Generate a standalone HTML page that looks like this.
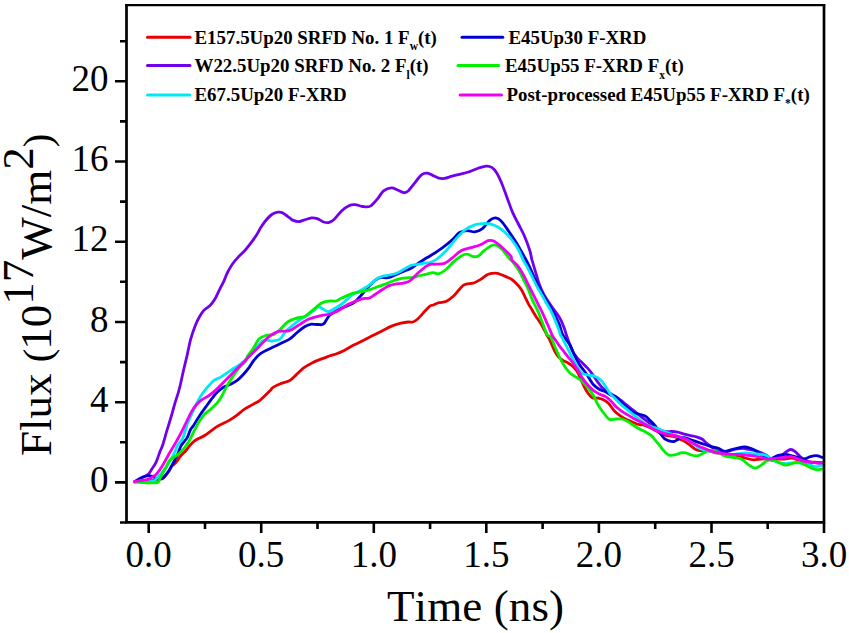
<!DOCTYPE html>
<html><head><meta charset="utf-8"><style>
html,body{margin:0;padding:0;background:#fff;}
svg{display:block;}
text{font-family:"Liberation Serif", serif;fill:#000;font-kerning:none;}
</style></head><body>
<svg width="849" height="633" viewBox="0 0 849 633">
<rect width="849" height="633" fill="#fff"/>

<defs><clipPath id="pa"><rect x="126.5" y="5.1" width="697.5" height="517.3"/></clipPath></defs>
<g clip-path="url(#pa)" fill="none" stroke-width="2.8" stroke-linejoin="round" stroke-linecap="round">
<path stroke="#e80000" d="M134.7,481.5 C136.4,481.5 141.6,481.7 145.0,481.5 C148.4,481.3 152.2,480.9 155.0,480.5 C157.8,480.1 159.8,479.5 161.5,478.8 C163.2,478.1 163.8,477.4 165.0,476.1 C166.2,474.8 167.7,472.7 168.8,471.1 C169.9,469.5 170.8,467.4 171.6,466.3 C172.4,465.2 173.0,465.4 173.8,464.6 C174.6,463.8 175.7,462.8 176.6,461.6 C177.5,460.5 178.3,459.0 179.3,457.7 C180.3,456.4 181.5,455.0 182.6,453.8 C183.7,452.6 184.9,451.8 186.0,450.5 C187.1,449.2 187.9,447.7 189.3,446.1 C190.7,444.5 192.4,442.5 194.2,441.1 C195.9,439.7 197.9,438.9 199.8,437.9 C201.7,436.9 202.6,436.9 205.5,435.0 C208.4,433.1 213.5,428.8 217.4,426.4 C221.3,424.0 226.0,422.2 229.2,420.4 C232.4,418.6 234.0,417.5 236.4,415.7 C238.8,413.9 240.8,411.7 243.5,409.8 C246.2,407.9 250.2,406.0 252.9,404.4 C255.7,402.8 257.1,402.6 260.0,400.3 C262.9,398.0 267.9,392.9 270.0,390.8 C272.1,388.7 271.1,388.7 272.7,387.6 C274.3,386.5 276.9,385.2 279.8,384.0 C282.7,382.8 287.0,382.1 289.8,380.5 C292.6,378.9 294.5,376.2 296.9,374.1 C299.3,372.0 301.6,369.5 304.0,367.7 C306.4,365.9 308.3,364.8 311.1,363.4 C313.9,362.0 317.9,360.4 321.0,359.1 C324.1,357.8 327.5,356.7 330.0,355.8 C332.5,354.9 333.5,354.9 335.9,354.0 C338.3,353.1 341.2,351.9 344.2,350.4 C347.2,348.9 350.5,346.8 353.7,345.1 C356.9,343.4 360.0,342.0 363.2,340.4 C366.4,338.8 369.5,337.2 372.7,335.6 C375.9,334.0 379.0,332.5 382.1,330.9 C385.2,329.3 388.4,327.4 391.6,326.1 C394.8,324.8 398.3,323.9 401.1,323.2 C403.9,322.5 406.2,322.2 408.2,322.0 C410.2,321.8 411.3,322.5 412.9,322.0 C414.5,321.5 415.7,320.8 417.7,319.0 C419.7,317.2 422.8,313.5 424.8,311.3 C426.9,309.1 428.6,307.1 430.0,306.0 C431.4,304.9 431.8,305.6 433.3,305.0 C434.8,304.4 436.8,303.3 439.0,302.7 C441.2,302.1 444.0,302.4 446.5,301.2 C449.0,300.0 451.2,298.2 454.1,295.5 C457.0,292.8 460.4,287.2 463.6,285.1 C466.8,283.1 470.2,284.1 473.1,283.2 C476.0,282.2 478.2,280.9 480.7,279.4 C483.2,277.9 485.7,275.4 488.2,274.3 C490.7,273.2 493.8,273.1 495.8,273.1 C497.8,273.1 498.3,273.6 500.0,274.2 C501.7,274.8 503.9,275.7 505.9,276.6 C507.9,277.5 510.0,278.3 511.8,279.5 C513.6,280.7 515.0,282.0 516.6,283.7 C518.2,285.4 519.9,287.4 521.3,289.6 C522.7,291.8 523.7,294.3 524.9,296.7 C526.1,299.1 527.2,301.6 528.4,303.8 C529.6,306.0 530.8,307.8 532.0,309.8 C533.2,311.8 534.1,313.5 535.5,315.7 C536.9,317.9 538.7,320.2 540.3,322.8 C541.9,325.4 543.9,329.1 545.0,331.1 C546.1,333.1 546.0,333.6 546.8,335.0 C547.5,336.4 548.3,337.0 549.5,339.5 C550.7,342.0 552.8,347.3 554.2,350.1 C555.6,352.9 556.4,354.4 557.8,356.1 C559.2,357.8 560.7,359.0 562.5,360.2 C564.3,361.4 566.6,362.1 568.4,363.2 C570.2,364.3 571.6,365.1 573.2,366.7 C574.8,368.3 576.5,370.3 577.9,372.7 C579.3,375.1 580.1,377.9 581.5,380.9 C582.9,383.8 584.4,387.6 586.2,390.4 C588.0,393.2 590.1,396.2 592.1,397.5 C594.1,398.8 596.1,397.7 598.1,398.1 C600.1,398.5 602.2,399.0 604.0,399.9 C605.8,400.8 606.9,401.6 608.7,403.5 C610.5,405.4 612.7,409.2 614.7,411.3 C616.7,413.4 618.7,414.7 620.7,416.1 C622.7,417.5 624.6,418.6 626.6,419.6 C628.6,420.6 630.5,421.2 632.5,422.0 C634.5,422.8 636.6,423.9 638.4,424.4 C640.2,424.9 641.6,424.6 643.2,425.0 C644.8,425.4 646.3,426.0 647.9,426.7 C649.5,427.4 651.1,428.3 652.7,429.1 C654.3,429.9 655.8,430.6 657.4,431.5 C659.0,432.4 660.5,433.7 662.1,434.4 C663.7,435.1 665.3,435.3 666.9,435.6 C668.5,435.9 670.0,435.9 671.6,436.2 C673.2,436.5 674.8,436.8 676.4,437.4 C678.0,438.0 679.5,439.0 681.1,439.8 C682.7,440.6 684.2,441.1 685.8,442.1 C687.4,443.1 689.0,444.5 690.6,445.7 C692.2,446.9 693.7,448.4 695.3,449.2 C696.9,450.0 697.9,450.3 700.0,450.5 C702.1,450.7 705.2,450.2 707.7,450.6 C710.2,451.0 712.8,452.4 715.3,452.9 C717.8,453.4 720.5,453.4 723.0,453.6 C725.5,453.9 728.1,454.0 730.6,454.4 C733.1,454.8 735.8,455.3 738.3,455.9 C740.8,456.5 743.3,457.5 745.9,458.2 C748.5,458.9 751.0,459.7 753.6,459.8 C756.2,459.9 758.8,459.1 761.3,459.0 C763.8,458.9 766.3,459.0 768.9,459.0 C771.5,459.0 774.0,459.0 776.6,459.0 C779.2,459.0 781.7,459.1 784.2,459.0 C786.8,458.9 789.4,457.9 791.9,458.2 C794.4,458.4 797.0,459.9 799.5,460.5 C802.0,461.1 804.6,461.8 807.2,462.1 C809.8,462.4 812.4,462.0 814.9,462.1 C817.4,462.2 820.6,462.7 822.5,462.8 C824.4,462.9 825.4,463.0 826.0,463.0"/>
<path stroke="#7000ee" d="M134.7,481.8 C135.5,481.3 137.8,479.8 139.8,478.7 C141.8,477.6 145.3,476.0 146.9,475.1 C148.5,474.2 148.5,474.1 149.3,473.1 C150.1,472.1 150.7,470.8 151.7,469.2 C152.7,467.6 154.4,465.4 155.3,463.8 C156.2,462.2 156.4,461.4 157.2,459.4 C158.0,457.4 159.1,454.0 160.0,451.6 C160.9,449.2 161.5,448.6 162.7,445.0 C163.9,441.4 165.6,434.8 167.1,429.9 C168.6,425.0 170.2,419.9 171.5,415.5 C172.8,411.1 173.6,407.7 174.9,403.3 C176.2,398.9 177.9,394.6 179.3,389.0 C180.8,383.4 182.3,375.5 183.6,370.0 C184.9,364.5 185.7,361.3 186.9,356.2 C188.1,351.1 189.3,344.3 190.7,339.1 C192.1,333.9 194.1,328.6 195.5,325.0 C196.9,321.4 197.7,319.9 199.1,317.5 C200.5,315.1 202.0,312.4 203.8,310.4 C205.6,308.4 208.0,307.5 209.8,305.7 C211.6,303.9 212.9,302.4 214.5,299.8 C216.1,297.2 217.6,293.5 219.2,290.3 C220.8,287.1 222.6,283.8 224.0,280.8 C225.4,277.8 226.1,275.3 227.5,272.5 C228.9,269.7 230.5,266.8 232.3,264.2 C234.1,261.6 236.0,259.5 238.2,257.1 C240.4,254.7 243.3,252.2 245.3,250.0 C247.3,247.8 248.6,246.0 250.4,243.6 C252.2,241.2 254.6,238.1 256.4,235.3 C258.2,232.5 259.5,229.5 261.1,227.0 C262.7,224.5 264.0,222.6 265.8,220.5 C267.6,218.4 269.8,215.9 271.8,214.5 C273.8,213.1 275.9,212.5 277.7,212.2 C279.5,211.9 280.3,211.8 282.4,212.8 C284.4,213.8 288.3,216.9 290.0,218.1 C291.7,219.3 291.2,219.5 292.6,220.1 C294.0,220.7 296.3,221.7 298.2,221.7 C300.1,221.7 301.7,220.7 303.9,220.1 C306.1,219.5 309.3,218.2 311.5,217.9 C313.7,217.7 315.3,218.0 317.2,218.6 C319.1,219.2 321.0,221.0 322.9,221.7 C324.8,222.4 326.7,223.0 328.6,222.6 C330.5,222.2 332.1,221.2 334.3,219.2 C336.5,217.2 339.3,213.0 341.8,210.7 C344.3,208.4 347.2,206.4 349.4,205.4 C351.6,204.4 352.9,204.4 355.1,204.6 C357.3,204.8 360.2,206.2 362.7,206.5 C365.2,206.8 367.8,207.5 370.3,206.1 C372.8,204.7 375.7,200.9 377.9,198.3 C380.1,195.8 381.4,192.5 383.6,190.8 C385.9,189.1 389.1,188.1 391.4,187.9 C393.6,187.7 395.1,189.0 397.1,189.8 C399.2,190.6 401.8,192.5 403.7,192.7 C405.6,192.9 406.3,192.7 408.4,190.8 C410.4,188.9 413.8,184.0 416.0,181.3 C418.2,178.6 419.8,176.0 421.7,174.6 C423.6,173.2 425.5,172.9 427.4,173.1 C429.3,173.3 431.2,174.8 433.1,175.6 C435.0,176.4 436.9,177.6 438.8,178.1 C440.7,178.6 442.3,178.7 444.5,178.4 C446.7,178.1 449.5,176.9 452.0,176.2 C454.5,175.5 456.8,175.0 459.6,174.3 C462.5,173.6 465.9,172.9 469.1,171.8 C472.3,170.8 475.8,168.9 478.6,168.0 C481.5,167.1 484.0,166.2 486.2,166.1 C488.4,166.0 490.1,166.3 491.8,167.4 C493.5,168.5 495.0,170.2 496.6,172.7 C498.2,175.2 499.6,178.1 501.3,182.2 C503.0,186.3 505.1,192.3 507.0,197.4 C508.9,202.5 510.8,208.2 512.7,212.6 C514.6,217.0 516.5,220.2 518.4,224.0 C520.3,227.8 522.2,230.9 524.1,235.3 C526.0,239.7 528.5,246.4 529.8,250.5 C531.1,254.6 531.0,256.4 532.0,260.0 C533.0,263.6 534.3,267.9 535.5,271.8 C536.7,275.8 537.7,279.9 539.1,283.7 C540.5,287.5 542.0,291.0 543.8,294.4 C545.6,297.8 547.8,300.9 549.8,303.8 C551.8,306.8 553.9,309.5 555.7,312.1 C557.5,314.7 559.0,316.6 560.4,319.2 C561.8,321.8 563.0,324.9 564.0,327.5 C565.0,330.1 565.1,331.2 566.4,335.0 C567.7,338.8 570.3,346.4 572.0,350.1 C573.7,353.8 574.9,355.1 576.7,357.3 C578.5,359.5 580.9,361.4 582.7,363.2 C584.5,365.0 585.8,366.1 587.4,367.9 C589.0,369.7 590.5,371.6 592.1,373.8 C593.7,376.0 595.3,378.7 596.9,380.9 C598.5,383.1 599.8,385.1 601.6,386.9 C603.4,388.7 605.7,390.3 607.5,391.6 C609.3,392.9 610.6,393.6 612.4,394.7 C614.2,395.8 616.3,396.9 618.3,398.3 C620.3,399.7 622.2,401.4 624.2,403.0 C626.2,404.6 628.1,406.2 630.1,407.8 C632.1,409.4 634.1,410.9 636.1,412.5 C638.1,414.1 640.0,415.7 642.0,417.3 C644.0,418.9 645.9,420.4 647.9,422.0 C649.9,423.6 651.8,425.4 653.8,426.7 C655.8,428.0 657.8,428.9 659.8,429.7 C661.8,430.5 663.7,431.2 665.7,431.5 C667.7,431.8 669.6,431.4 671.6,431.5 C673.6,431.6 675.5,431.7 677.5,432.1 C679.5,432.5 681.3,433.2 683.5,433.8 C685.7,434.4 688.4,435.1 690.6,435.6 C692.8,436.1 694.5,436.2 696.5,436.8 C698.5,437.4 700.8,438.2 702.4,439.2 C704.0,440.2 704.5,441.5 706.1,442.9 C707.8,444.3 710.2,446.1 712.3,447.5 C714.3,448.9 716.4,450.5 718.4,451.3 C720.4,452.1 722.5,452.2 724.5,452.1 C726.5,452.0 728.6,451.1 730.6,450.6 C732.6,450.1 734.8,449.4 736.8,449.0 C738.8,448.6 740.9,448.2 742.9,448.3 C744.9,448.4 747.0,449.1 749.0,449.5 C751.0,449.9 753.1,450.0 755.1,450.6 C757.1,451.2 759.2,452.0 761.3,452.9 C763.3,453.8 765.6,454.6 767.4,455.9 C769.2,457.2 770.5,460.0 772.0,460.5 C773.5,461.0 775.1,459.8 776.6,459.0 C778.1,458.2 779.7,457.0 781.2,455.9 C782.7,454.8 784.3,453.2 785.8,452.1 C787.3,451.0 788.9,449.6 790.4,449.5 C791.9,449.4 793.4,450.2 794.9,451.3 C796.4,452.4 798.0,454.5 799.5,455.9 C801.0,457.3 802.3,458.8 804.1,459.8 C805.9,460.8 808.2,461.6 810.3,462.1 C812.3,462.6 814.4,462.6 816.4,462.8 C818.4,463.1 820.9,463.4 822.5,463.6 C824.1,463.8 825.4,463.9 826.0,464.0"/>
<path stroke="#0000d4" d="M134.7,481.8 C135.3,481.4 136.8,480.4 138.3,479.5 C139.8,478.6 142.1,477.3 143.8,476.7 C145.5,476.1 147.1,476.0 148.5,475.9 C149.9,475.8 151.2,475.8 152.5,476.3 C153.8,476.8 155.0,478.3 156.4,478.7 C157.8,479.1 160.1,478.7 161.1,478.7 C162.1,478.7 161.5,479.1 162.2,478.7 C162.8,478.2 163.9,477.3 165.0,476.0 C166.1,474.7 167.7,472.7 168.8,471.0 C169.9,469.3 170.7,467.7 171.6,466.0 C172.5,464.3 173.4,462.8 174.3,461.0 C175.2,459.2 176.3,457.3 177.1,455.5 C177.9,453.7 178.6,451.8 179.3,450.0 C180.0,448.2 180.2,447.0 181.5,445.0 C182.8,443.0 185.6,440.4 187.1,437.9 C188.6,435.4 189.2,432.1 190.3,430.0 C191.4,427.9 192.1,427.6 193.7,425.2 C195.2,422.8 197.6,418.7 199.6,415.7 C201.6,412.7 203.5,410.2 205.5,407.4 C207.5,404.6 209.5,401.7 211.5,399.1 C213.5,396.5 215.4,394.0 217.4,392.0 C219.4,390.0 220.9,388.7 223.3,387.3 C225.7,385.9 229.2,384.9 231.6,383.7 C234.0,382.5 235.5,381.7 237.5,380.1 C239.5,378.5 241.5,376.4 243.5,374.2 C245.5,372.0 247.6,369.5 249.4,367.1 C251.2,364.7 252.2,362.3 254.1,360.0 C256.0,357.7 257.8,355.4 260.8,353.3 C263.8,351.2 269.0,349.2 272.2,347.6 C275.4,346.0 277.1,345.2 280.0,343.8 C282.9,342.4 286.6,341.0 289.5,339.1 C292.4,337.2 294.6,334.6 297.1,332.5 C299.6,330.4 302.4,328.2 304.6,326.8 C306.8,325.4 308.1,324.7 310.3,324.3 C312.5,323.9 315.7,324.6 317.9,324.5 C320.1,324.4 321.6,325.5 323.6,323.9 C325.6,322.3 327.0,317.6 330.0,315.0 C333.0,312.4 337.9,310.1 341.8,308.1 C345.8,306.1 350.5,304.9 353.7,302.8 C356.9,300.7 358.4,298.3 360.8,295.7 C363.2,293.1 365.5,290.0 367.9,287.4 C370.3,284.8 372.8,282.0 375.0,280.3 C377.2,278.6 378.7,277.7 380.9,277.3 C383.1,276.9 385.5,278.2 388.1,277.7 C390.7,277.2 393.8,275.4 396.4,274.4 C399.0,273.3 401.1,272.4 403.5,271.4 C405.9,270.4 408.2,269.7 410.6,268.4 C413.0,267.1 415.3,265.3 417.7,263.7 C420.1,262.1 422.8,260.3 424.8,259.0 C426.9,257.7 427.0,257.9 430.0,256.0 C433.0,254.1 438.9,250.3 442.6,247.6 C446.3,244.9 449.2,242.5 452.0,240.0 C454.8,237.5 457.1,234.1 459.6,232.5 C462.1,230.9 464.7,230.7 467.2,230.6 C469.7,230.5 472.3,232.2 474.8,231.9 C477.3,231.6 479.9,230.7 482.4,228.7 C484.9,226.7 487.8,221.9 490.0,220.1 C492.2,218.3 493.7,217.7 495.6,217.9 C497.5,218.1 499.1,218.8 501.3,221.1 C503.5,223.4 506.4,227.9 508.9,231.5 C511.4,235.1 514.6,239.8 516.5,242.9 C518.4,246.0 518.9,247.2 520.5,250.0 C522.1,252.8 524.4,256.8 526.1,260.0 C527.8,263.2 529.2,266.1 530.8,269.5 C532.4,272.9 533.9,276.8 535.5,280.1 C537.1,283.5 538.7,286.6 540.3,289.6 C541.9,292.6 543.4,295.1 545.0,297.9 C546.6,300.7 548.2,303.4 549.8,306.2 C551.4,309.0 552.9,311.5 554.5,314.5 C556.1,317.5 557.8,320.6 559.2,324.0 C560.6,327.4 561.0,331.5 562.8,335.0 C564.6,338.5 568.1,341.7 570.0,345.0 C571.9,348.3 572.9,351.8 574.4,355.0 C575.9,358.2 577.5,361.4 579.1,364.0 C580.7,366.6 582.2,368.1 583.8,370.3 C585.4,372.5 587.0,375.0 588.6,377.4 C590.2,379.8 591.5,382.5 593.3,384.5 C595.1,386.5 597.2,388.0 599.2,389.2 C601.2,390.4 603.2,390.6 605.2,391.6 C607.2,392.6 609.3,394.3 611.1,395.2 C612.9,396.1 614.1,395.8 615.9,397.1 C617.7,398.4 619.8,401.2 621.8,403.0 C623.8,404.8 625.8,406.2 627.8,407.8 C629.8,409.4 631.7,411.4 633.7,412.5 C635.7,413.6 637.6,413.7 639.6,414.3 C641.6,414.9 643.7,415.0 645.5,416.1 C647.3,417.2 648.7,419.2 650.3,420.8 C651.9,422.4 653.4,423.5 655.0,425.5 C656.6,427.5 658.2,430.5 659.8,432.7 C661.4,434.9 662.9,437.2 664.5,438.6 C666.1,440.0 667.6,440.4 669.2,440.9 C670.8,441.4 672.6,441.7 674.0,441.5 C675.4,441.3 675.9,440.5 677.5,439.8 C679.1,439.1 681.3,437.4 683.5,437.4 C685.7,437.4 688.2,439.0 690.6,439.8 C693.0,440.6 695.3,441.3 697.7,442.1 C700.1,442.9 702.4,443.7 704.8,444.5 C707.2,445.3 710.0,446.2 712.3,446.8 C714.6,447.4 716.4,447.6 718.4,448.3 C720.4,449.1 722.5,451.1 724.5,451.3 C726.5,451.6 728.6,450.3 730.6,449.8 C732.6,449.3 734.5,448.8 736.8,448.3 C739.1,447.8 742.1,446.8 744.4,446.8 C746.7,446.8 748.5,447.6 750.5,448.3 C752.5,449.1 754.9,450.3 756.7,451.3 C758.5,452.3 759.8,453.4 761.3,454.4 C762.8,455.4 764.3,456.7 765.8,457.5 C767.3,458.3 768.9,459.1 770.4,459.0 C771.9,458.9 773.5,457.3 775.0,456.7 C776.5,456.1 777.8,455.6 779.6,455.2 C781.4,454.8 783.8,454.3 785.8,454.4 C787.8,454.5 789.9,455.4 791.9,455.9 C793.9,456.4 796.0,457.0 798.0,457.5 C800.0,458.0 802.1,459.1 804.1,459.0 C806.1,458.9 808.2,457.3 810.3,456.7 C812.3,456.1 814.4,455.5 816.4,455.6 C818.4,455.7 820.9,457.1 822.5,457.5 C824.1,457.9 825.4,457.9 826.0,458.0"/>
<path stroke="#00e8f4" d="M134.7,481.8 C136.4,481.8 141.8,481.6 145.0,481.5 C148.2,481.4 152.2,481.5 154.0,481.0 C155.8,480.5 154.9,479.9 156.1,478.7 C157.3,477.5 159.5,475.4 161.1,473.7 C162.7,471.9 164.1,470.1 165.5,468.2 C166.9,466.3 168.2,464.1 169.4,462.1 C170.6,460.1 171.7,458.0 172.7,456.1 C173.7,454.2 174.7,452.4 175.5,450.5 C176.3,448.6 176.5,447.0 177.7,445.0 C178.9,443.0 181.3,441.2 182.6,438.7 C183.9,436.2 184.6,432.6 185.5,430.0 C186.4,427.4 186.4,426.2 187.8,422.8 C189.2,419.4 191.7,414.0 193.7,409.8 C195.7,405.6 197.6,401.3 199.6,397.9 C201.6,394.5 204.1,391.5 205.5,389.6 C206.9,387.7 206.7,387.9 208.1,386.4 C209.5,384.9 211.8,382.0 214.0,380.4 C216.2,378.8 218.7,378.3 221.1,376.9 C223.5,375.5 225.8,373.7 228.2,372.1 C230.6,370.5 232.9,369.0 235.3,367.4 C237.7,365.8 240.0,364.7 242.4,362.7 C244.8,360.7 246.6,359.1 250.0,355.5 C253.4,351.9 259.0,343.4 262.7,341.0 C266.4,338.6 269.3,341.3 272.2,341.0 C275.1,340.7 277.8,340.7 280.0,339.1 C282.2,337.5 283.5,333.9 285.7,331.5 C287.9,329.1 290.8,326.9 293.3,324.9 C295.8,322.8 298.4,320.9 300.9,319.2 C303.4,317.5 306.2,316.0 308.4,314.5 C310.6,313.0 312.4,311.6 314.1,310.3 C315.9,309.0 317.0,306.8 318.9,306.9 C320.8,307.0 323.6,310.0 325.5,310.7 C327.4,311.4 327.3,312.2 330.0,311.1 C332.7,310.0 338.2,306.6 341.8,304.0 C345.4,301.4 348.3,297.9 351.3,295.7 C354.3,293.5 356.8,292.5 359.6,290.9 C362.4,289.3 365.3,288.0 367.9,286.2 C370.5,284.4 372.8,281.9 375.0,280.3 C377.2,278.7 378.5,277.6 380.9,276.7 C383.3,275.8 386.6,275.6 389.2,275.0 C391.8,274.4 394.0,274.1 396.4,273.2 C398.8,272.3 401.1,270.9 403.5,269.6 C405.9,268.3 408.2,266.4 410.6,265.5 C413.0,264.6 415.3,264.7 417.7,264.3 C420.1,263.9 422.8,263.4 424.8,263.1 C426.9,262.8 428.0,263.2 430.0,262.5 C432.0,261.8 434.2,261.0 436.9,259.0 C439.6,257.0 443.2,253.8 446.4,250.5 C449.5,247.2 452.6,242.6 455.8,239.1 C459.0,235.6 462.1,232.0 465.3,229.6 C468.5,227.2 472.0,225.9 474.8,224.9 C477.6,223.9 479.9,223.8 482.4,223.6 C484.9,223.4 487.5,223.4 490.0,223.9 C492.5,224.4 495.0,225.4 497.5,226.8 C500.0,228.2 502.6,230.1 505.1,232.5 C507.6,234.9 510.5,238.1 512.7,241.0 C515.0,243.9 516.9,246.8 518.6,250.0 C520.3,253.2 521.7,257.1 523.1,260.0 C524.5,262.9 525.8,264.3 527.3,267.1 C528.8,269.9 530.4,273.4 532.0,276.6 C533.6,279.8 535.1,283.1 536.7,286.1 C538.3,289.1 539.9,291.6 541.5,294.4 C543.1,297.2 544.6,299.9 546.2,302.7 C547.8,305.4 549.3,307.8 550.9,310.9 C552.5,314.0 554.3,318.2 555.7,321.6 C557.1,325.0 558.4,328.9 559.2,331.1 C560.0,333.3 559.9,333.8 560.4,335.0 C560.9,336.2 561.4,336.2 562.5,338.3 C563.6,340.4 565.7,344.6 567.3,347.8 C568.9,351.0 570.4,354.4 572.0,357.3 C573.6,360.2 575.1,362.9 576.7,365.5 C578.3,368.1 579.7,371.1 581.5,372.7 C583.3,374.3 585.2,374.4 587.4,375.0 C589.6,375.6 592.3,375.4 594.5,376.2 C596.7,377.0 598.6,378.2 600.4,379.8 C602.2,381.4 603.6,383.4 605.2,385.7 C606.8,388.0 608.2,391.3 610.0,393.6 C611.8,395.9 613.9,397.5 615.9,399.5 C617.9,401.5 619.8,403.6 621.8,405.4 C623.8,407.2 625.8,408.5 627.8,410.1 C629.8,411.7 631.7,413.3 633.7,414.9 C635.7,416.5 637.6,418.0 639.6,419.6 C641.6,421.2 643.5,423.2 645.5,424.4 C647.5,425.6 649.5,426.0 651.5,426.7 C653.5,427.4 655.4,427.8 657.4,428.5 C659.4,429.2 661.3,430.1 663.3,430.9 C665.3,431.7 667.2,432.4 669.2,433.2 C671.2,434.0 673.2,434.9 675.2,435.6 C677.2,436.3 679.1,436.7 681.1,437.4 C683.1,438.1 685.0,438.8 687.0,439.8 C689.0,440.8 690.9,441.9 692.9,443.3 C694.9,444.7 696.9,446.9 698.9,448.1 C700.9,449.3 703.3,450.0 704.8,450.4 C706.3,450.8 706.0,450.3 707.7,450.6 C709.5,450.9 712.8,451.5 715.3,452.1 C717.8,452.7 720.5,454.0 723.0,454.4 C725.5,454.8 728.1,454.5 730.6,454.4 C733.1,454.3 735.8,453.9 738.3,453.6 C740.8,453.4 743.3,452.9 745.9,452.9 C748.5,452.9 751.0,453.4 753.6,453.6 C756.2,453.9 759.0,454.0 761.3,454.4 C763.6,454.8 765.4,454.9 767.4,455.9 C769.4,456.9 771.5,459.4 773.5,460.5 C775.5,461.6 777.6,462.3 779.6,462.8 C781.6,463.3 783.8,463.6 785.8,463.6 C787.8,463.6 789.9,462.9 791.9,462.8 C793.9,462.7 796.0,462.7 798.0,462.8 C800.0,462.9 802.1,463.2 804.1,463.6 C806.1,464.0 808.2,464.6 810.3,465.1 C812.3,465.6 814.4,466.7 816.4,466.7 C818.4,466.7 820.9,465.4 822.5,465.1 C824.1,464.8 825.4,465.0 826.0,465.0"/>
<path stroke="#00f000" d="M134.7,482.2 C136.2,482.3 140.1,482.5 143.8,482.6 C147.6,482.7 154.5,483.3 157.2,482.6 C159.9,481.9 159.0,479.9 160.0,478.2 C161.0,476.4 162.3,474.0 163.3,472.1 C164.3,470.2 165.2,468.9 166.1,467.1 C167.0,465.4 167.9,463.0 168.8,461.6 C169.7,460.2 170.5,459.7 171.6,458.8 C172.7,457.9 174.2,457.0 175.5,456.1 C176.8,455.2 178.0,454.4 179.3,453.3 C180.6,452.2 182.0,450.8 183.2,449.4 C184.4,448.0 185.6,446.3 186.5,445.0 C187.4,443.7 187.8,443.4 188.7,441.8 C189.6,440.2 190.9,437.5 191.9,435.5 C192.9,433.5 193.8,431.4 194.6,430.0 C195.3,428.6 195.8,428.1 196.4,426.9 C197.0,425.7 197.1,424.9 198.4,422.8 C199.7,420.7 202.2,416.9 204.4,414.5 C206.6,412.1 209.3,410.6 211.5,408.6 C213.7,406.6 215.6,404.9 217.4,402.7 C219.2,400.5 220.5,398.3 222.1,395.5 C223.7,392.7 225.1,389.2 226.9,386.1 C228.7,383.0 230.8,379.6 232.8,376.6 C234.8,373.6 236.5,370.9 238.7,368.3 C240.9,365.7 244.3,363.2 245.8,361.2 C247.3,359.2 246.3,358.3 247.5,356.2 C248.7,354.1 251.3,351.5 253.2,348.6 C255.1,345.8 256.7,341.3 258.9,339.1 C261.1,336.9 264.0,336.1 266.5,335.3 C269.0,334.5 271.9,335.3 274.1,334.4 C276.4,333.4 277.8,331.7 280.0,329.6 C282.2,327.5 284.8,323.9 287.6,322.0 C290.5,320.1 294.3,318.8 297.1,317.9 C299.9,317.0 302.1,317.6 304.6,316.4 C307.1,315.2 309.4,312.9 312.2,310.7 C315.0,308.5 318.7,304.7 321.7,303.1 C324.7,301.5 327.6,301.4 330.0,301.0 C332.4,300.6 333.9,301.5 335.9,301.0 C337.9,300.5 339.2,299.3 341.8,298.1 C344.4,296.9 348.3,294.9 351.3,293.9 C354.3,292.9 356.6,292.8 359.6,292.1 C362.6,291.4 366.1,290.7 369.1,289.8 C372.1,288.9 374.8,287.7 377.4,286.8 C380.0,285.9 382.1,285.3 384.5,284.4 C386.9,283.5 389.2,282.4 391.6,281.5 C394.0,280.6 396.3,279.7 398.7,279.1 C401.1,278.5 403.4,278.2 405.8,277.9 C408.2,277.6 410.5,277.7 412.9,277.3 C415.3,276.9 417.1,276.2 420.0,275.5 C422.9,274.8 427.8,273.7 430.0,273.2 C432.2,272.7 431.8,272.6 433.3,272.7 C434.8,272.8 436.8,274.3 439.0,273.7 C441.2,273.1 444.0,271.1 446.5,269.0 C449.0,266.9 451.6,263.6 454.1,261.4 C456.6,259.2 459.5,256.9 461.7,255.7 C463.9,254.5 465.5,254.0 467.4,254.2 C469.3,254.3 471.2,256.4 473.1,256.6 C475.0,256.9 476.9,256.7 478.8,255.7 C480.7,254.7 481.8,252.3 484.3,250.5 C486.8,248.7 490.9,245.1 493.7,244.8 C496.5,244.5 498.8,246.4 501.3,248.6 C503.8,250.8 506.9,255.8 508.9,258.1 C510.8,260.4 511.3,260.3 513.0,262.4 C514.7,264.5 517.2,267.8 519.0,270.7 C520.8,273.6 522.1,277.0 523.7,280.1 C525.3,283.2 527.0,286.4 528.4,289.6 C529.8,292.8 530.6,295.9 532.0,299.1 C533.4,302.3 535.3,305.6 536.7,308.6 C538.1,311.6 539.1,313.9 540.3,316.9 C541.5,319.9 542.6,323.4 543.8,326.4 C545.0,329.4 546.2,333.2 547.4,335.0 C548.5,336.8 549.4,335.0 550.7,337.1 C552.0,339.2 553.8,344.2 555.4,347.8 C557.0,351.4 558.5,355.2 560.1,358.4 C561.7,361.5 563.1,364.1 564.9,366.7 C566.7,369.3 568.8,372.0 570.8,373.8 C572.8,375.6 574.9,376.2 576.7,377.4 C578.5,378.6 579.9,379.5 581.5,380.9 C583.1,382.3 584.6,383.9 586.2,385.7 C587.8,387.5 589.5,389.6 590.9,391.6 C592.3,393.6 593.3,395.3 594.5,397.5 C595.7,399.7 596.9,402.9 598.1,405.0 C599.3,407.1 600.3,408.3 601.5,410.0 C602.7,411.7 604.1,413.8 605.5,415.4 C606.9,417.0 608.3,419.0 610.0,419.6 C611.7,420.2 613.9,419.1 615.9,419.0 C617.9,418.9 619.8,418.6 621.8,419.0 C623.8,419.4 625.8,420.3 627.8,421.4 C629.8,422.5 631.7,424.2 633.7,425.5 C635.7,426.8 637.6,428.0 639.6,429.1 C641.6,430.2 643.5,431.0 645.5,432.1 C647.5,433.2 649.9,434.3 651.5,435.6 C653.1,436.9 653.6,438.1 655.0,439.8 C656.4,441.5 658.2,443.7 659.8,445.7 C661.4,447.7 662.9,450.0 664.5,451.6 C666.1,453.2 667.4,454.6 669.2,455.2 C671.0,455.8 673.2,455.3 675.2,454.9 C677.2,454.5 679.3,453.1 681.1,452.8 C682.9,452.5 684.0,452.4 685.8,452.8 C687.6,453.2 689.8,454.7 691.8,455.2 C693.8,455.7 695.7,456.2 697.7,455.8 C699.7,455.4 701.9,453.8 703.6,453.0 C705.3,452.2 706.0,451.4 708.0,451.0 C710.0,450.6 712.5,449.8 715.3,450.6 C718.0,451.4 721.4,454.8 724.5,455.9 C727.6,457.0 730.9,457.0 733.7,457.5 C736.5,458.0 738.8,457.7 741.3,459.0 C743.8,460.3 746.7,463.6 749.0,465.1 C751.3,466.6 753.1,468.2 755.1,468.2 C757.1,468.2 759.2,466.4 761.3,465.1 C763.3,463.8 765.4,461.3 767.4,460.5 C769.4,459.7 771.5,460.1 773.5,460.5 C775.5,460.9 777.6,462.0 779.6,462.8 C781.6,463.6 783.8,465.0 785.8,465.1 C787.8,465.2 789.9,464.1 791.9,463.6 C793.9,463.1 796.0,462.0 798.0,462.1 C800.0,462.2 802.1,463.5 804.1,464.4 C806.1,465.3 808.2,466.5 810.3,467.4 C812.3,468.3 814.4,469.4 816.4,469.7 C818.4,470.0 820.9,469.3 822.5,469.0 C824.1,468.7 825.4,468.2 826.0,468.0"/>
<path stroke="#f000f0" d="M134.7,481.5 C135.5,481.4 138.0,480.9 139.8,480.6 C141.6,480.3 143.7,480.2 145.4,479.9 C147.1,479.6 148.8,479.3 150.1,478.7 C151.4,478.1 152.4,476.9 153.3,476.3 C154.2,475.7 154.6,475.9 155.6,474.9 C156.6,473.9 158.1,472.2 159.4,470.4 C160.7,468.6 162.0,466.5 163.3,464.3 C164.6,462.1 165.9,459.5 167.2,457.2 C168.5,454.9 169.8,452.5 171.0,450.5 C172.2,448.5 173.6,446.2 174.3,445.0 C175.0,443.8 174.3,445.2 175.4,443.2 C176.5,441.2 179.3,436.2 181.0,433.0 C182.7,429.8 183.7,427.5 185.4,424.0 C187.1,420.5 189.5,415.3 191.3,412.1 C193.1,408.9 194.3,407.1 196.1,405.0 C197.9,402.9 199.8,401.3 202.0,399.7 C204.2,398.1 206.7,397.2 209.1,395.5 C211.5,393.8 213.8,391.8 216.2,389.6 C218.6,387.4 220.9,384.9 223.3,382.5 C225.7,380.1 228.0,377.8 230.4,375.4 C232.8,373.0 235.1,370.7 237.5,368.3 C239.9,365.9 242.9,362.9 244.6,361.2 C246.3,359.5 245.1,360.5 247.5,358.1 C249.9,355.7 255.4,350.2 258.9,346.7 C262.4,343.2 265.2,339.7 268.4,337.2 C271.6,334.7 274.4,332.6 277.9,331.5 C281.4,330.4 286.0,331.7 289.5,330.6 C293.0,329.5 295.9,326.8 299.0,324.9 C302.1,323.0 305.2,320.6 308.4,319.2 C311.5,317.8 314.7,317.2 317.9,316.4 C321.1,315.6 325.4,314.9 327.4,314.5 C329.4,314.1 328.0,314.9 330.0,314.1 C332.0,313.3 336.5,311.5 339.5,309.9 C342.5,308.3 345.0,306.1 347.8,304.6 C350.6,303.1 353.5,302.0 356.1,301.0 C358.7,300.0 361.0,299.1 363.2,298.6 C365.4,298.1 367.1,298.8 369.1,298.1 C371.1,297.4 372.8,295.9 375.0,294.5 C377.2,293.1 379.7,291.3 382.1,289.8 C384.5,288.3 386.8,286.6 389.2,285.6 C391.6,284.6 394.0,284.2 396.4,283.8 C398.8,283.4 401.1,283.8 403.5,283.2 C405.9,282.6 408.2,282.0 410.6,280.3 C413.0,278.6 415.3,275.4 417.7,273.2 C420.1,271.0 422.8,268.8 424.8,267.3 C426.9,265.8 428.2,264.8 430.0,264.3 C431.8,263.8 433.1,264.4 435.5,264.2 C437.9,264.0 441.8,264.4 444.5,263.4 C447.2,262.4 449.2,260.2 452.0,258.1 C454.8,256.0 458.3,252.2 461.5,250.5 C464.7,248.8 467.8,248.5 471.0,247.6 C474.2,246.7 477.6,246.0 480.5,244.8 C483.4,243.6 485.9,241.2 488.1,240.6 C490.3,240.0 491.5,240.0 493.7,241.0 C495.9,242.0 498.4,244.2 501.3,246.7 C504.2,249.2 509.1,254.0 510.8,256.2 C512.5,258.4 510.6,258.4 511.8,260.0 C513.0,261.6 515.8,263.3 517.8,265.9 C519.8,268.5 521.9,272.2 523.7,275.4 C525.5,278.6 526.8,281.7 528.4,284.9 C530.0,288.1 531.6,291.2 533.2,294.4 C534.8,297.5 536.3,300.6 537.9,303.8 C539.5,307.0 541.1,309.9 542.7,313.3 C544.3,316.7 545.8,320.4 547.4,324.0 C549.0,327.6 551.0,332.6 552.1,335.0 C553.2,337.4 553.1,336.6 554.2,338.3 C555.4,340.0 557.4,343.2 559.0,345.4 C560.6,347.6 562.1,349.3 563.7,351.3 C565.3,353.3 566.8,355.3 568.4,357.3 C570.0,359.3 571.6,361.0 573.2,363.2 C574.8,365.4 576.3,367.7 577.9,370.3 C579.5,372.9 581.1,376.2 582.7,378.6 C584.3,381.0 585.6,382.5 587.4,384.5 C589.2,386.5 591.3,388.8 593.3,390.4 C595.3,392.0 597.2,393.0 599.2,394.0 C601.2,395.0 603.3,395.3 605.2,396.4 C607.1,397.5 608.7,398.8 610.5,400.5 C612.3,402.2 614.0,404.8 615.9,406.6 C617.8,408.4 619.8,409.9 621.8,411.3 C623.8,412.7 625.8,413.7 627.8,414.9 C629.8,416.1 631.7,417.3 633.7,418.4 C635.7,419.5 637.6,420.4 639.6,421.4 C641.6,422.4 643.5,423.3 645.5,424.4 C647.5,425.5 649.5,426.8 651.5,427.9 C653.5,429.0 655.4,430.0 657.4,430.9 C659.4,431.8 661.3,432.6 663.3,433.2 C665.3,433.8 667.2,434.0 669.2,434.4 C671.2,434.8 673.2,435.1 675.2,435.6 C677.2,436.1 679.1,436.7 681.1,437.4 C683.1,438.1 685.0,438.8 687.0,439.8 C689.0,440.8 690.9,442.2 692.9,443.3 C694.9,444.4 696.9,445.4 698.9,446.3 C700.9,447.2 703.3,448.0 704.8,448.6 C706.3,449.2 706.0,449.2 707.7,449.8 C709.5,450.4 712.8,451.5 715.3,452.1 C717.8,452.7 720.5,453.2 723.0,453.6 C725.5,454.0 728.1,454.3 730.6,454.4 C733.1,454.5 735.8,454.3 738.3,454.4 C740.8,454.5 743.3,454.9 745.9,455.2 C748.5,455.4 751.0,455.5 753.6,455.9 C756.2,456.3 758.8,457.0 761.3,457.5 C763.8,458.0 766.3,458.9 768.9,459.0 C771.5,459.1 774.0,458.4 776.6,458.2 C779.2,457.9 781.7,457.8 784.2,457.5 C786.8,457.2 789.6,456.4 791.9,456.7 C794.2,456.9 796.0,458.2 798.0,459.0 C800.0,459.8 802.1,460.8 804.1,461.3 C806.1,461.8 808.2,461.9 810.3,462.1 C812.3,462.4 814.4,462.7 816.4,462.8 C818.4,462.9 820.9,462.8 822.5,462.8 C824.1,462.8 825.4,463.0 826.0,463.0"/>
</g>
<path d="M125.1,5.1H825.2" stroke="#000" stroke-width="2.3" fill="none"/>
<path d="M126.5,4.0V522.4H824.0V4.0" stroke="#000" stroke-width="2.7" fill="none" stroke-linejoin="miter"/>
<path d="M148.7,522.4V532.9M261.2,522.4V532.9M373.8,522.4V532.9M486.3,522.4V532.9M598.9,522.4V532.9M711.5,522.4V532.9M824.0,522.4V532.9M205.0,522.4V528.9M317.5,522.4V528.9M430.1,522.4V528.9M542.6,522.4V528.9M655.2,522.4V528.9M767.7,522.4V528.9M126.5,482.4H115.0M126.5,402.2H115.0M126.5,322.0H115.0M126.5,241.7H115.0M126.5,161.5H115.0M126.5,81.3H115.0M126.5,522.5H120.0M126.5,442.3H120.0M126.5,362.1H120.0M126.5,281.8H120.0M126.5,201.6H120.0M126.5,121.4H120.0M126.5,41.2H120.0" stroke="#000" stroke-width="2.6" fill="none"/>
<text x="108.4" y="492.0" font-size="37" text-anchor="end">0</text>
<text x="108.4" y="411.8" font-size="37" text-anchor="end">4</text>
<text x="108.4" y="331.6" font-size="37" text-anchor="end">8</text>
<text x="108.4" y="251.3" font-size="37" text-anchor="end">12</text>
<text x="108.4" y="171.1" font-size="37" text-anchor="end">16</text>
<text x="108.4" y="90.9" font-size="37" text-anchor="end">20</text>
<text x="148.7" y="567.0" font-size="37" text-anchor="middle">0.0</text>
<text x="261.2" y="567.0" font-size="37" text-anchor="middle">0.5</text>
<text x="373.8" y="567.0" font-size="37" text-anchor="middle">1.0</text>
<text x="486.3" y="567.0" font-size="37" text-anchor="middle">1.5</text>
<text x="598.9" y="567.0" font-size="37" text-anchor="middle">2.0</text>
<text x="711.5" y="567.0" font-size="37" text-anchor="middle">2.5</text>
<text x="824.0" y="567.0" font-size="37" text-anchor="middle">3.0</text>
<text x="387" y="621.2" font-size="45" letter-spacing="0.1">Time (ns)</text>
<text transform="translate(51,456) rotate(-90)" font-size="45" x="0" y="0">Flux <tspan font-size="40.5">(</tspan><tspan dx="-1">10</tspan><tspan dy="-18">17</tspan><tspan dy="18">W/m</tspan><tspan dy="-18">2</tspan><tspan dy="18" font-size="40.5">)</tspan></text>
<line x1="147.5" y1="37.3" x2="190.0" y2="37.3" stroke="#e80000" stroke-width="3" stroke-linecap="round"/>
<text x="194.5" y="43.9" font-size="18.9" font-weight="bold">E157.5Up20 SRFD No. 1 F<tspan dy="6.5" font-size="11.5">w</tspan><tspan dy="-6.5">(t)</tspan></text>
<line x1="147.5" y1="65.6" x2="190.0" y2="65.6" stroke="#7000ee" stroke-width="3" stroke-linecap="round"/>
<text x="194.5" y="72.1" font-size="18.9" font-weight="bold">W22.5Up20 SRFD No. 2 F<tspan dy="6.5" font-size="11.5">l</tspan><tspan dy="-6.5">(t)</tspan></text>
<line x1="147.5" y1="95.0" x2="189.7" y2="95.0" stroke="#00e8f4" stroke-width="3" stroke-linecap="round"/>
<text x="194.5" y="100.8" font-size="18.9" font-weight="bold">E67.5Up20 F-XRD</text>
<line x1="462.0" y1="37.3" x2="502.8" y2="37.3" stroke="#0000d4" stroke-width="3" stroke-linecap="round"/>
<text x="508.4" y="43.9" font-size="18.9" font-weight="bold">E45Up30 F-XRD</text>
<line x1="458.0" y1="65.6" x2="498.6" y2="65.6" stroke="#00f000" stroke-width="3" stroke-linecap="round"/>
<text x="505.0" y="72.1" font-size="18.9" font-weight="bold">E45Up55 F-XRD F<tspan dy="6.5" font-size="11.5">x</tspan><tspan dy="-6.5">(t)</tspan></text>
<line x1="460.2" y1="95.0" x2="501.5" y2="95.0" stroke="#f000f0" stroke-width="3" stroke-linecap="round"/>
<text x="506.5" y="100.8" font-size="18.9" font-weight="bold">Post-processed E45Up55 F-XRD F<tspan dy="6.5" font-size="11.5">*</tspan><tspan dy="-6.5">(t)</tspan></text>
</svg></body></html>
